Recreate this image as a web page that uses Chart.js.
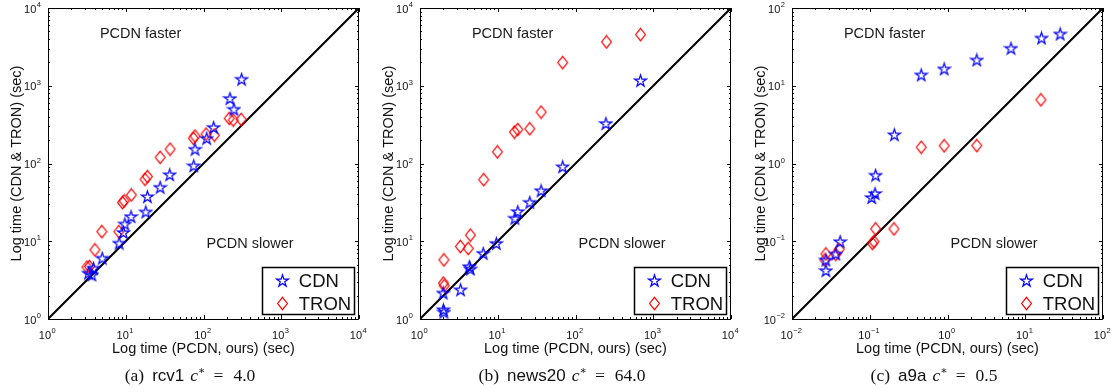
<!DOCTYPE html>
<html lang="en">
<head>
<meta charset="UTF-8">
<title>PCDN vs CDN / TRON timing</title>
<script src="https://cdn.jsdelivr.net/npm/chart.js"></script>
<style>
    body { margin: 0; background: #ffffff; }
    .wrap { position: relative; width: 1116px; height: 392px; }
    .panel { position: absolute; top: 0; width: 372px; height: 392px; }
    .panel canvas { position: absolute; left: 0; top: 0; }
    .caption {
        position: absolute; left: 0; width: 380px; top: 364px;
        text-align: center; white-space: nowrap;
        font-family: "Liberation Serif", "DejaVu Serif", serif; font-size: 17.5px; color: #111;
    }
    .caption .sf { font-family: "Liberation Sans", sans-serif; font-size: 17px; margin-left: 8px; }
    .caption i { margin-left: 6px; }
    .caption sup { font-size: 11px; }
    .caption .eq { margin-left: 8px; margin-right: 10px; }
</style>
</head>
<body>
<div class="wrap">
    <div class="panel" style="left:0px">
        <canvas id="rcv1" width="372" height="392"></canvas>
        <div class="caption">(a)<span class="sf">rcv1</span><i>c</i><sup>∗</sup><span class="eq">=</span>4.0</div>
    </div>
    <div class="panel" style="left:372px">
        <canvas id="news20" width="372" height="392"></canvas>
        <div class="caption">(b)<span class="sf">news20</span><i>c</i><sup>∗</sup><span class="eq">=</span>64.0</div>
    </div>
    <div class="panel" style="left:744px">
        <canvas id="a9a" width="372" height="392"></canvas>
        <div class="caption">(c)<span class="sf">a9a</span><i>c</i><sup>∗</sup><span class="eq">=</span>0.5</div>
    </div>
</div>

<script>
    // running times in seconds: x = PCDN, y = CDN or TRON
    const rcv1CdnPcdn  = [309, 219, 246, 135, 110, 77.8, 74.8, 36.8, 27.7, 19, 18.1, 11.7, 9.73, 9.34, 8.23, 4.98, 3.85, 3.32, 3.67];
    const rcv1CdnTime  = [1216, 687, 500, 292, 211, 153, 93.7, 71.8, 49.5, 37.5, 23.9, 20.8, 16.7, 13, 9.46, 6.07, 4.52, 3.9, 3.7];
    const rcv1TronPcdn = [305, 241, 214, 138, 108, 77.8, 74, 37.2, 27.7, 19, 17.7, 11.8, 9.54, 9.07, 8.15, 4.93, 4.01, 3.42, 3.17];
    const rcv1TronTime = [369, 362, 380, 232, 239, 225, 211, 153, 120, 67.7, 62.7, 39.4, 33, 31.4, 13.3, 13.3, 7.76, 4.73, 4.65];

    const news20CdnPcdn  = [686, 246, 68.4, 36.1, 25.8, 18.1, 16.6, 9.6, 6.5, 4.3, 4.45, 3.33, 1.99, 2.0, 2.03];
    const news20CdnTime  = [1168, 328, 91, 44.8, 31.7, 24.1, 19.8, 9.4, 7.0, 4.73, 4.4, 2.38, 2.16, 1.32, 1.23];
    const news20TronPcdn = [686, 250, 68.4, 36.1, 25.8, 18.1, 16.4, 9.9, 6.6, 4.45, 4.17, 3.3, 2.03, 2.0, 2.05];
    const news20TronTime = [4548, 3661, 1987, 458, 280, 274, 254, 141, 62, 12, 8.07, 8.57, 5.77, 2.9, 2.68];

    const a9aCdnPcdn  = [28.1, 16.2, 6.55, 2.38, 0.906, 0.459, 0.207, 0.119, 0.117, 0.106, 0.0416, 0.0366, 0.0273, 0.0273];
    const a9aCdnTime  = [46.4, 41.2, 30.4, 21.5, 16.5, 13.8, 2.35, 0.708, 0.412, 0.366, 0.0989, 0.0687, 0.0575, 0.042];
    const a9aTronPcdn = [15.9, 2.38, 0.906, 0.459, 0.205, 0.119, 0.1135, 0.108, 0.0404, 0.0366, 0.0273, 0.0265];
    const a9aTronTime = [6.6, 1.70, 1.69, 1.62, 0.144, 0.144, 0.0989, 0.094, 0.0789, 0.068, 0.0687, 0.0575];

    // decade exponents of the axes (same range on x and y)
    const bigExponents = [0, 1, 2, 3, 4];
    const smallExponents = [-2, -1, 0, 1, 2];

    const seriesNames = ['CDN', 'TRON'];
    const xTitle = 'Log time (PCDN, ours) (sec)';
    const yTitle = 'Log time (CDN & TRON) (sec)';
    const fasterText = 'PCDN faster';
    const slowerText = 'PCDN slower';

    const FONT = '"Liberation Sans", Arial, sans-serif';

    // matlab-like open pentagram marker
    function makeStar(color) {
        const c = document.createElement('canvas');
        c.width = 15; c.height = 15;
        const g = c.getContext('2d');
        const R = 6.2, r = R * 0.382;
        g.beginPath();
        for (let i = 0; i < 10; i++) {
            const rad = i % 2 === 0 ? R : r;
            const a = -Math.PI / 2 + i * Math.PI / 5;
            const px = 7.5 + rad * Math.cos(a), py = 8.1 + rad * Math.sin(a);
            if (i === 0) g.moveTo(px, py); else g.lineTo(px, py);
        }
        g.closePath();
        g.strokeStyle = color;
        g.lineWidth = 1.25;
        g.stroke();
        return c;
    }

    function makeDiamond(color) {
        const c = document.createElement('canvas');
        c.width = 13; c.height = 15;
        const g = c.getContext('2d');
        g.beginPath();
        g.moveTo(6.5, 1.3); g.lineTo(11.4, 7.5); g.lineTo(6.5, 13.7); g.lineTo(1.6, 7.5);
        g.closePath();
        g.strokeStyle = color;
        g.lineWidth = 1.2;
        g.stroke();
        return c;
    }

    const starImg = makeStar('#0000ff');
    const diamondImg = makeDiamond('#ff0000');

    function zip(xs, ys) {
        return xs.map((x, i) => ({ x: x, y: ys[i] }));
    }

    // box, inward ticks, 10^k labels, titles, region notes and legend
    const matlabAxes = {
        id: 'matlabAxes',
        afterDraw(chart, args, opts) {
            const ctx = chart.ctx;
            const a = chart.chartArea;
            const xs = chart.scales.x, ys = chart.scales.y;
            const exps = opts.exponents;
            ctx.save();
            ctx.strokeStyle = '#000';
            ctx.fillStyle = '#111';
            ctx.lineWidth = 1;

            // ticks
            ctx.beginPath();
            for (let k = 0; k < exps.length; k++) {
                const base = Math.pow(10, exps[k]);
                const mults = k < exps.length - 1 ? [1, 2, 3, 4, 5, 6, 7, 8, 9] : [1];
                mults.forEach(m => {
                    const len = m === 1 ? 4 : 2;
                    const px = Math.round(xs.getPixelForValue(base * m)) + 0.5;
                    const py = Math.round(ys.getPixelForValue(base * m)) + 0.5;
                    ctx.moveTo(px, a.bottom); ctx.lineTo(px, a.bottom - len);
                    ctx.moveTo(px, a.top); ctx.lineTo(px, a.top + len);
                    ctx.moveTo(a.left, py); ctx.lineTo(a.left + len, py);
                    ctx.moveTo(a.right, py); ctx.lineTo(a.right - len, py);
                });
            }
            ctx.stroke();

            // box
            ctx.strokeRect(Math.round(a.left) + 0.5, Math.round(a.top) + 0.5,
                Math.round(a.right - a.left) - 1, Math.round(a.bottom - a.top));

            // tick labels "10" with raised exponent
            const baseFont = '11px ' + FONT, expFont = '7.5px ' + FONT;
            exps.forEach(e => {
                const v = Math.pow(10, e);
                const expText = String(e).replace('-', '\u2212');
                ctx.font = baseFont;
                const wb = ctx.measureText('10').width;
                ctx.font = expFont;
                const we = ctx.measureText(expText).width;
                // x axis
                const px = xs.getPixelForValue(v);
                const x0 = px - (wb + we) / 2 - 1;
                ctx.textAlign = 'left';
                ctx.textBaseline = 'alphabetic';
                ctx.font = baseFont;
                ctx.fillText('10', x0, a.bottom + 19.5);
                ctx.font = expFont;
                ctx.fillText(expText, x0 + wb + 0.5, a.bottom + 13.5);
                // y axis
                const py = ys.getPixelForValue(v);
                const right = a.left - 7;
                ctx.font = expFont;
                ctx.fillText(expText, right - we, py - 1);
                ctx.font = baseFont;
                ctx.fillText('10', right - we - 0.5 - wb, py + 4.5);
            });

            // axis titles
            ctx.font = '14.5px ' + FONT;
            ctx.textAlign = 'center';
            ctx.fillText(xTitle, (a.left + a.right) / 2, a.bottom + 34);
            ctx.save();
            ctx.translate(20.5, (a.top + a.bottom) / 2);
            ctx.rotate(-Math.PI / 2);
            ctx.fillText(yTitle, 0, 0);
            ctx.restore();

            // region notes
            const w = a.right - a.left, h = a.bottom - a.top;
            ctx.textAlign = 'left';
            ctx.fillStyle = '#1a1a1a';
            ctx.fillText(fasterText, a.left + 0.167 * w, a.top + 0.0965 * h);
            ctx.fillText(slowerText, a.left + 0.51 * w, a.top + 0.771 * h);

            // legend box
            const lx = a.right - 96.5, ly = a.bottom - 51.5;
            ctx.fillStyle = '#fff';
            ctx.fillRect(lx, ly, 92, 47);
            ctx.lineWidth = 1.5;
            ctx.strokeRect(lx, ly, 92, 47);
            ctx.drawImage(starImg, Math.round(lx + 20 - 7.5), Math.round(ly + 13.3 - 8.1));
            ctx.drawImage(diamondImg, Math.round(lx + 19.5 - 6.5), Math.round(ly + 35.6 - 7.5));
            ctx.fillStyle = '#111';
            ctx.font = '18.5px ' + FONT;
            ctx.fillText(seriesNames[0], lx + 36.3, ly + 19.6);
            ctx.fillText(seriesNames[1], lx + 36.3, ly + 42.3);
            ctx.restore();
        }
    };

    function makePanel(id, cdnX, cdnY, tronX, tronY, exps) {
        const lo = Math.pow(10, exps[0]);
        const hi = Math.pow(10, exps[exps.length - 1]);
        new Chart(document.getElementById(id), {
            type: 'scatter',
            data: {
                datasets: [
                    {
                        label: seriesNames[0],
                        data: zip(cdnX, cdnY),
                        pointStyle: starImg,
                        pointRadius: 6
                    },
                    {
                        label: seriesNames[1],
                        data: zip(tronX, tronY),
                        pointStyle: diamondImg,
                        pointRadius: 6
                    },
                    {
                        // equal-time diagonal
                        type: 'line',
                        label: 'y = x',
                        data: [{ x: lo, y: lo }, { x: hi, y: hi }],
                        borderColor: '#000000',
                        borderWidth: 2,
                        pointRadius: 0
                    }
                ]
            },
            options: {
                responsive: false,
                animation: false,
                devicePixelRatio: 1,
                layout: { padding: { left: 48, right: 13, top: 8, bottom: 73 } },
                scales: {
                    x: { type: 'logarithmic', min: lo, max: hi, display: false },
                    y: { type: 'logarithmic', min: lo, max: hi, display: false }
                },
                plugins: {
                    legend: { display: false },
                    tooltip: { enabled: false },
                    matlabAxes: { exponents: exps }
                }
            },
            plugins: [matlabAxes]
        });
    }

    makePanel('rcv1', rcv1CdnPcdn, rcv1CdnTime, rcv1TronPcdn, rcv1TronTime, bigExponents);
    makePanel('news20', news20CdnPcdn, news20CdnTime, news20TronPcdn, news20TronTime, bigExponents);
    makePanel('a9a', a9aCdnPcdn, a9aCdnTime, a9aTronPcdn, a9aTronTime, smallExponents);
</script>
</body>
</html>
